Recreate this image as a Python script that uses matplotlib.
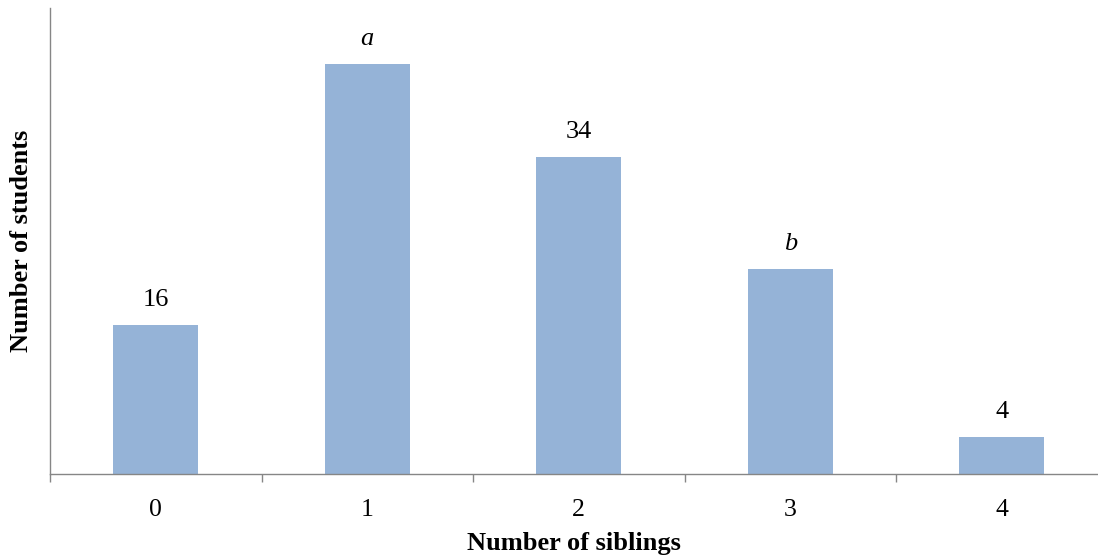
import matplotlib.pyplot as plt
from matplotlib.ticker import FixedLocator

# siblings survey data
siblings = ['0', '1', '2', '3', '4']
students = [16, 44, 34, 22, 4]
bar_labels = ['16', 'a', '34', 'b', '4']
italic_labels = ['a', 'b']

bar_color = '#95B3D7'
axis_color = '#868686'
serif = 'Liberation Serif'

fig = plt.figure(figsize=(10.98, 5.59), dpi=100)
ax = fig.add_axes([50 / 1098, 1 - 474 / 559, 1048 / 1098, 466 / 559])

x = list(range(len(siblings)))
bars = ax.bar(x, students, width=0.4, color=bar_color, zorder=2)

for rect, lab in zip(bars, bar_labels):
    style = 'italic' if lab in italic_labels else 'normal'
    ax.annotate(lab, (rect.get_x() + rect.get_width() / 2, rect.get_height()),
                xytext=(0, 13.5), textcoords='offset points', ha='center', va='baseline',
                fontsize=19, family=serif, style=style)

ax.set_xlim(-0.5, -0.5 + 1048 / 211.5)
ax.set_ylim(0, 50)

# category labels at centres, tick marks between categories
ax.set_xticks(x)
ax.set_xticklabels(siblings, fontsize=18.5, family=serif)
ax.xaxis.set_minor_locator(FixedLocator([i - 0.5 for i in range(len(siblings))]))
ax.tick_params(axis='x', which='major', length=0, pad=18)
ax.tick_params(axis='x', which='minor', length=6, width=1, color=axis_color, direction='out')
ax.set_yticks([])

for side in ['top', 'right']:
    ax.spines[side].set_visible(False)
for side in ['left', 'bottom']:
    ax.spines[side].set_color(axis_color)
    ax.spines[side].set_linewidth(1)

ax.set_xlabel('Number of siblings', fontsize=19, family=serif,
              fontweight='bold', labelpad=8)
ax.set_ylabel('Number of students', fontsize=19, family=serif,
              fontweight='bold', labelpad=12)

fig.savefig('out.png', dpi=100)
